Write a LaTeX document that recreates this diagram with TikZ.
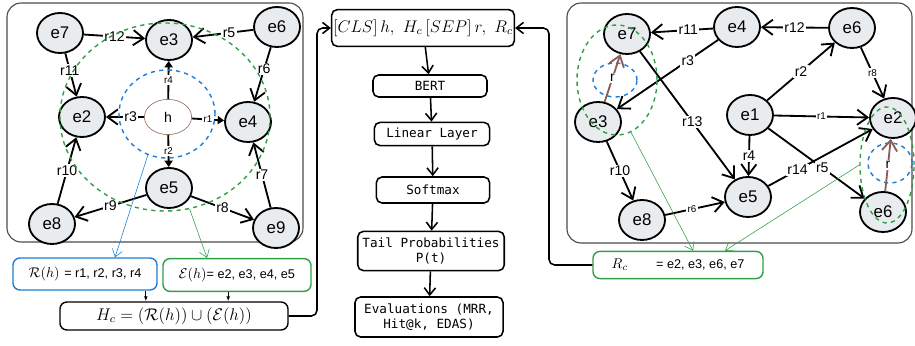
\documentclass[tikz,border=0pt]{standalone}
\usepackage{fontspec}
\setsansfont{Liberation Sans}
\setmonofont{DejaVu Sans Mono}
\usetikzlibrary{shapes.geometric,arrows.meta,positioning}
\definecolor{nodegray}{HTML}{E9ECEF}
\definecolor{exblue}{HTML}{1C7ED6}
\definecolor{exgreen}{HTML}{2F9E44}
\definecolor{exbrown}{HTML}{8C5E54}
\tikzset{
  ent/.style={draw,ellipse,line width=1.3pt,fill=nodegray,minimum width=1.15cm,minimum height=1cm,inner sep=0pt,font=\sffamily\large},
  lbl/.style={fill=white,inner sep=1pt,font=\sffamily},
  slbl/.style={fill=white,inner sep=1pt,font=\sffamily\scriptsize},
  rel/.style={line width=1.3pt,-{Straight Barb[length=2.6mm,width=3.8mm]}},
  hrel/.style={line width=1.3pt,-{Triangle[length=1.6mm,width=2mm]}},
  ring/.style={draw,ellipse,dashed,line width=1pt,inner sep=0pt},
  panel/.style={draw=black!70,line width=0.8pt,rounded corners=10pt},
  stage/.style={draw,line width=1.1pt,rounded corners=4pt,font=\ttfamily\small,align=center,minimum width=2.85cm,minimum height=0.6cm},
  setbox/.style={draw,line width=1pt,rounded corners=5pt,inner sep=2pt},
  flow/.style={line width=1.1pt,-{Straight Barb[length=1.8mm,width=2.8mm]}},
  thin/.style={line width=0.4pt,-{Straight Barb[length=1.8mm,width=2.6mm]}},
  drop/.style={line width=0.6pt,-{Latex[length=1.2mm]}}
}
\begin{document}
\begin{tikzpicture}[x=0.025cm,y=-0.025cm]
\useasboundingbox (0,0) rectangle (915,346);

% left graph
\draw[panel] (7,3) rectangle (303,242);
\node[ent] (l7) at (60,33) {e7};
\node[ent] (l3) at (169,40) {e3};
\node[ent] (l6) at (277,27) {e6};
\node[ent] (l2) at (82,117) {e2};
\node[draw=exbrown,ellipse,fill=white,minimum width=1.18cm,minimum height=0.88cm,font=\sffamily] (h) at (168,117) {h};
\node[ent] (l4) at (248,122) {e4};
\node[ent] (l5) at (169,188) {e5};
\node[ent] (l8) at (52,224) {e8};
\node[ent] (l9) at (276,228) {e9};

\draw[rel] (l7) -- node[lbl] {r12} (l3);
\draw[rel] (l6) -- node[lbl,pos=0.4] {r5} (l3);
\draw[rel] (l6) -- node[lbl,pos=0.4] {r6} (l4);
\draw[rel] (l7) -- node[lbl,pos=0.4] {r11} (l2);
\draw[rel] (l8) -- node[lbl] {r10} (l2);
\draw[rel] (l9) -- node[lbl] {r7} (l4);
\draw[rel] (l5) -- node[lbl] {r9} (l8);
\draw[rel] (l5) -- node[lbl] {r8} (l9);
\draw[hrel] (h) -- node[slbl] {r4} (l3);
\draw[rel] (h) -- node[lbl,pos=0.35] {r3} (l2);
\draw[hrel] (h) -- node[slbl] {r1} (l4);
\draw[hrel] (h) -- node[slbl] {r2} (l5);

\node[ring,draw=exgreen,minimum width=5.25cm,minimum height=4.7cm] (ringE) at (165,117) {};
\node[ring,draw=exblue,minimum width=2.4cm,minimum height=2.2cm] (ringR) at (167,114) {};

% neighbourhood sets
\node[setbox,draw=exblue,minimum width=3.6cm,minimum height=0.8cm] (rh) at (85,274)
  {$\Large\mathcal{R}(h)$\ {\sffamily\small = r1, r2, r3, r4}};
\node[setbox,draw=exgreen,minimum width=3.7cm,minimum height=0.82cm] (eh) at (237,275)
  {$\Large\mathcal{E}(h)${\sffamily\small = e2, e3, e4, e5}};
\node[setbox,minimum width=5.7cm,minimum height=0.7cm] (hc) at (174,316)
  {\large$H_c=(\mathcal{R}(h))\cup(\mathcal{E}(h))$};

\draw[thin,draw=exblue] (ringR.245) -- ([xshift=0.75cm]rh.north);
\draw[thin,draw=exgreen] (ringE.285) -- ([xshift=-0.75cm]eh.north);
\draw[drop] ([xshift=1.52cm]rh.south) -- ([xshift=1.52cm]rh.south |- hc.north);
\draw[drop] ([xshift=-0.22cm]eh.south) -- ([xshift=-0.22cm]eh.south |- hc.north);

% model pipeline
\node[stage,font=\large,inner sep=1pt,minimum width=4.02cm,minimum height=0.92cm] (cls) at (423,28)
  {$[CLS]\,h,\ H_c\,[SEP]\,r,\ R_c$};
\node[stage,minimum height=0.55cm] (bert) at (430,86) {BERT};
\node[stage,minimum width=2.88cm,minimum height=0.58cm] (lin) at (432,134) {Linear Layer};
\node[stage,minimum width=2.83cm,minimum height=0.65cm] (soft) at (433,190) {Softmax};
\node[stage,minimum width=3.65cm,minimum height=0.98cm] (tail) at (431,251) {Tail Probabilities\\P(t)};
\node[stage,minimum width=3.7cm,minimum height=1cm] (eval) at (429,317) {Evaluations (MRR,\\Hit@k, EDAS)};

\draw[flow] (cls) -- (bert);
\draw[flow] (bert) -- (lin);
\draw[flow] (lin) -- (soft);
\draw[flow] (soft) -- (tail);
\draw[flow] (tail) -- (eval);

\coordinate (lbend) at (317,28);
\coordinate (rbend) at (549,28);
\draw[flow,rounded corners=4pt] (hc.east) -| (lbend) -- (cls.west);

% right graph
\draw[panel] (567,3) rectangle (912,243);
\node[ent] (r7) at (627,34) {e7};
\node[ent] (r4) at (737,27) {e4};
\node[ent] (r6) at (852,28) {e6};
\node[ent] (r3) at (598,122) {e3};
\node[ent] (r1) at (750,115) {e1};
\node[ent] (r2) at (893,118) {e2};
\node[ent] (r5) at (748,197) {e5};
\node[ent] (r8) at (642,220) {e8};
\node[ent] (rb) at (883,212) {e6};

\draw[rel] (r4) -- node[lbl,pos=0.4] {r11} (r7);
\draw[rel] (r6) -- node[lbl] {r12} (r4);
\draw[rel] (r4) -- node[lbl,pos=0.3] {r3} (r3);
\draw[rel] (r7) -- node[lbl,pos=0.55] {r13} (r5);
\draw[rel] (r1) -- node[lbl] {r2} (r6);
\draw[rel] (r6) -- node[slbl] {r8} (r2);
\draw[rel] (r1) -- node[slbl] {r1} (r2);
\draw[rel] (r1) -- node[lbl] {r4} (r5);
\draw[rel] (r1) -- node[lbl,pos=0.56] {r5} (rb);
\draw[rel] (r5) -- node[lbl,pos=0.28] {r14} (r2);
\draw[rel] (r3) -- node[lbl] {r10} (r8);
\draw[rel] (r8) -- node[slbl,pos=0.45] {r6} (r5);

\node[ring,draw=exblue,minimum width=1.1cm,minimum height=0.85cm] (rq1) at (615,80) {};
\node[ring,draw=exblue,minimum width=1.1cm,minimum height=1cm] (rq2) at (890,163) {};
\draw[rel,draw=exbrown] (r3) -- node[lbl] {r} (r7);
\draw[rel,draw=exbrown] (rb) -- node[lbl] {r} (r2);
\node[ring,draw=exgreen,minimum width=2cm,minimum height=2.75cm] (ringC1) at (617,80) {};
\node[ring,draw=exgreen,minimum width=1.35cm,minimum height=2.9cm] (ringC2) at (887,165) {};

\node[setbox,draw=exgreen,minimum width=4.25cm,minimum height=0.68cm] (rc) at (678,265)
  {$\Large R_c$\qquad{\sffamily\small = e2, e3, e6, e7}};
\draw[thin,draw=exgreen] (ringC1.285) -- ([xshift=0.375cm]rc.north);
\draw[thin,draw=exgreen] (ringC2.180) -- ([xshift=1.175cm]rc.north);
\draw[flow,rounded corners=4pt] (rc.west) -| (rbend) -- (cls.east);
\end{tikzpicture}
\end{document}
